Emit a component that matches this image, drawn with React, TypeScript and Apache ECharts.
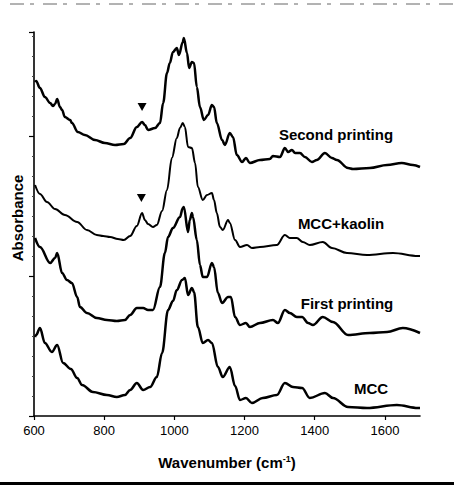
import React, { useEffect, useRef } from "react";
import * as echarts from "echarts";

// Wavenumber (cm-1) / absorbance (arbitrary offset units)
const secondPrinting: [number, number][] = [
  [603, 334], [606, 335], [617, 328], [631, 319], [646, 313], [654, 310], [660, 312], [666, 317],
  [674, 309], [680, 306], [688, 299], [703, 296], [708, 293], [725, 284], [745, 281], [774, 276],
  [802, 273], [831, 271], [856, 272], [874, 278], [893, 289], [908, 294], [916, 291], [925, 286],
  [945, 288], [959, 293], [968, 313], [979, 343], [987, 353], [996, 364], [1007, 368], [1013, 361],
  [1024, 374], [1027, 378], [1036, 363], [1042, 348], [1050, 354], [1056, 353], [1064, 329],
  [1073, 309], [1084, 296], [1096, 301], [1107, 311], [1113, 309], [1121, 293], [1136, 276],
  [1144, 271], [1158, 283], [1167, 279], [1178, 261], [1193, 254], [1204, 258], [1215, 253],
  [1244, 256], [1272, 257], [1281, 260], [1301, 259], [1315, 268], [1324, 264], [1335, 266],
  [1344, 263], [1358, 263], [1372, 259], [1392, 254], [1406, 256], [1429, 263], [1449, 258],
  [1463, 256], [1495, 248], [1509, 247], [1557, 248], [1606, 251], [1648, 253], [1680, 251], [1700, 249],
];

const mccKaolin: [number, number][] = [
  [603, 231], [617, 222], [637, 214], [660, 207], [688, 201], [723, 194], [751, 186], [779, 181],
  [797, 180], [817, 179], [839, 177], [856, 176], [874, 180], [893, 190], [908, 203], [916, 196],
  [925, 192], [939, 189], [950, 191], [965, 205], [979, 226], [993, 258], [1007, 278], [1016, 288],
  [1024, 293], [1030, 289], [1039, 269], [1050, 268], [1059, 253], [1067, 229], [1081, 216],
  [1093, 221], [1107, 223], [1113, 216], [1121, 203], [1130, 189], [1138, 186], [1153, 196],
  [1158, 193], [1173, 176], [1187, 169], [1207, 171], [1221, 168], [1244, 169], [1292, 171],
  [1315, 181], [1329, 178], [1349, 178], [1366, 174], [1386, 171], [1423, 174], [1449, 168],
  [1492, 163], [1549, 161], [1623, 163], [1694, 160], [1700, 160],
];

const firstPrinting: [number, number][] = [
  [603, 178], [617, 169], [646, 153], [660, 158], [666, 163], [680, 143], [694, 136], [708, 133],
  [723, 119], [731, 109], [751, 103], [779, 98], [808, 96], [836, 95], [859, 96], [874, 101],
  [893, 108], [911, 108], [925, 106], [939, 106], [959, 129], [973, 163], [982, 179], [996, 188],
  [1016, 199], [1024, 208], [1027, 209], [1039, 184], [1044, 196], [1050, 203], [1053, 199],
  [1064, 176], [1073, 151], [1081, 139], [1093, 139], [1107, 153], [1113, 149], [1124, 123],
  [1136, 113], [1153, 119], [1161, 119], [1173, 99], [1187, 91], [1204, 93], [1215, 89],
  [1244, 93], [1281, 96], [1295, 93], [1315, 106], [1329, 103], [1349, 99], [1364, 99],
  [1381, 93], [1395, 91], [1423, 99], [1452, 94], [1495, 81], [1557, 83], [1606, 84],
  [1651, 88], [1700, 83],
];

const mcc: [number, number][] = [
  [603, 79], [606, 81], [617, 88], [631, 73], [651, 64], [666, 71], [683, 53], [705, 47],
  [723, 38], [737, 31], [768, 24], [808, 21], [836, 19], [859, 21], [874, 26], [893, 33],
  [911, 26], [931, 29], [950, 39], [965, 63], [982, 106], [996, 115], [1007, 126], [1022, 136],
  [1030, 138], [1039, 121], [1050, 128], [1056, 124], [1067, 89], [1081, 73], [1096, 76],
  [1107, 73], [1124, 49], [1138, 39], [1158, 49], [1173, 30], [1187, 16], [1204, 18],
  [1221, 13], [1252, 18], [1292, 21], [1315, 33], [1338, 29], [1364, 28], [1386, 18],
  [1429, 23], [1452, 18], [1495, 9], [1549, 8], [1634, 11], [1694, 8], [1700, 8],
];

// ▼ markers above the ~905 cm-1 band
const markerPoints: [number, number][] = [[908, 309], [906, 218]];

const xTicks = [600, 800, 1000, 1200, 1400, 1600];

const curveLabels = [
  { text: "Second printing", x: 336, y: 134 },
  { text: "MCC+kaolin", x: 341, y: 223 },
  { text: "First printing", x: 347, y: 303 },
  { text: "MCC", x: 371, y: 388 },
];

const FONT = "Liberation Sans, Arial, Helvetica, sans-serif";

export default function App() {
  const ref = useRef<HTMLDivElement>(null);
  useEffect(() => {
    if (!ref.current) return;
    const chart = echarts.init(ref.current, null, { renderer: "svg" });
    const line = (name: string, data: [number, number][], w: number) => ({
      name,
      type: "line",
      data,
      showSymbol: false,
      smooth: 0.35,
      smoothMonotone: "x",
      lineStyle: { color: "#000", width: w },
      itemStyle: { color: "#000" },
      z: 3,
    });
    chart.setOption({
      animation: false,
      backgroundColor: "#fff",
      grid: { left: 34, right: 34, top: 32, bottom: 69 },
      xAxis: {
        type: "value",
        min: 600,
        max: 1700,
        interval: 200,
        axisLine: { show: true, lineStyle: { color: "#000", width: 1.6 } },
        axisTick: { show: true, length: 4, lineStyle: { color: "#000", width: 1.2 }, customValues: xTicks },
        axisLabel: {
          color: "#000",
          fontSize: 13,
          fontFamily: FONT,
          margin: 8,
          customValues: xTicks,
          formatter: (v: number) => String(v),
        },
        splitLine: { show: false },
      },
      yAxis: {
        type: "value",
        min: 0,
        max: 384,
        interval: 140,
        axisLine: { show: true, lineStyle: { color: "#000", width: 1.6 } },
        axisTick: { show: true, length: 5, lineStyle: { color: "#000", width: 1.2 } },
        minorTick: { show: true, splitNumber: 7, length: 2, lineStyle: { color: "#444", width: 1 } },
        axisLabel: { show: false },
        splitLine: { show: false },
      },
      series: [
        line("Second printing", secondPrinting, 2.5),
        line("MCC+kaolin", mccKaolin, 2),
        line("First printing", firstPrinting, 2.5),
        line("MCC", mcc, 2.5),
        {
          name: "markers",
          type: "scatter",
          data: markerPoints,
          symbol: "triangle",
          symbolRotate: 180,
          symbolSize: [9, 8],
          itemStyle: { color: "#000", opacity: 1 },
          z: 4,
        },
      ],
      graphic: [
        ...curveLabels.map((l) => ({
          type: "text",
          x: l.x,
          y: l.y,
          style: {
            text: l.text,
            fill: "#000",
            font: `bold 15px ${FONT}`,
            textAlign: "center",
            textVerticalAlign: "middle",
          },
          z: 10,
        })),
        {
          type: "text",
          x: 17,
          y: 218,
          rotation: Math.PI / 2,
          style: {
            text: "Absorbance",
            fill: "#000",
            font: `bold 15px ${FONT}`,
            textAlign: "center",
            textVerticalAlign: "middle",
          },
        },
        {
          type: "text",
          x: 227,
          y: 462,
          style: {
            text: "{a|Wavenumber (cm}{b|-1}{a|)}",
            textAlign: "center",
            textVerticalAlign: "middle",
            rich: {
              a: { fill: "#000", fontSize: 15, fontWeight: "bold", fontFamily: FONT },
              b: { fill: "#000", fontSize: 9, fontWeight: "bold", fontFamily: FONT, verticalAlign: "top" },
            },
          },
        },
        {
          type: "line",
          shape: { x1: 10, y1: 4, x2: 454, y2: 4 },
          style: { stroke: "#666", lineWidth: 1, lineDash: [14, 6, 4, 9] },
        },
        {
          type: "rect",
          shape: { x: 0, y: 482, width: 454, height: 3 },
          style: { fill: "#000" },
        },
      ],
    });
    return () => chart.dispose();
  }, []);
  return (
    <div
      ref={ref}
      style={{ position: "absolute", left: 0, top: 0, width: 454, height: 485 }}
    />
  );
}
